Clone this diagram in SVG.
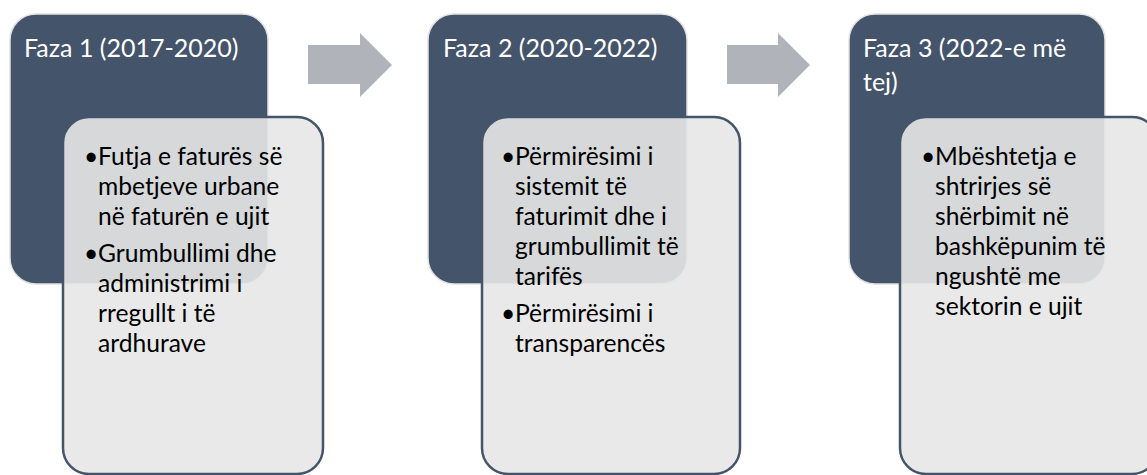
<svg xmlns="http://www.w3.org/2000/svg" width="1147" height="475" viewBox="0 0 1147 475">
<style>
.dark{fill:#44546a;stroke:#e2e2e2;stroke-width:1.5}
.light{fill:#e7e7e7;fill-opacity:0.9;stroke:#44546a;stroke-width:2.5}
.arrow{fill:#b0b3b9}
.hdr{font-family:Lato,"Liberation Sans",sans-serif;font-size:25px;fill:#ffffff}
.body{font-family:Lato,"Liberation Sans",sans-serif;font-size:24.6px;fill:#000000}
</style>
<rect width="1147" height="475" fill="#ffffff"/>
<g id="connectors">
<polygon class="arrow" points="308,45 360,45 360,33 392,65 360,97 360,84 308,84"/>
<polygon class="arrow" points="727,45 778,45 778,33 810,65 778,97 778,84 727,84"/>
</g>
<g id="phase1">
<rect class="dark" x="10" y="14" width="258" height="270" rx="26"/>
<text class="hdr" x="24" y="57">Faza 1 (2017-2020)</text>
<rect class="light" x="63" y="117" width="260" height="357" rx="26"/>
<text class="body" x="84" y="165">•</text>
<text class="body" x="98" y="165">Futja e faturës së</text>
<text class="body" x="98" y="195">mbetjeve urbane</text>
<text class="body" x="98" y="225">në faturën e ujit</text>
<text class="body" x="84" y="262">•</text>
<text class="body" x="98" y="262">Grumbullimi dhe</text>
<text class="body" x="98" y="292">administrimi i</text>
<text class="body" x="98" y="322">rregullt i të</text>
<text class="body" x="98" y="352">ardhurave</text>
</g>
<g id="phase2">
<rect class="dark" x="428" y="14" width="259" height="270" rx="26"/>
<text class="hdr" x="443" y="57">Faza 2 (2020-2022)</text>
<rect class="light" x="482" y="117" width="258" height="357" rx="26"/>
<text class="body" x="501" y="165">•</text>
<text class="body" x="515" y="165">Përmirësimi i</text>
<text class="body" x="515" y="195">sistemit të</text>
<text class="body" x="515" y="225">faturimit dhe i</text>
<text class="body" x="515" y="255">grumbullimit të</text>
<text class="body" x="515" y="285">tarifës</text>
<text class="body" x="501" y="322">•</text>
<text class="body" x="515" y="322">Përmirësimi i</text>
<text class="body" x="515" y="352">transparencës</text>
</g>
<g id="phase3">
<rect class="dark" x="849" y="14" width="256" height="270" rx="26"/>
<text class="hdr" x="863" y="57">Faza 3 (2022-e më</text>
<text class="hdr" x="863" y="91">tej)</text>
<rect class="light" x="900" y="117" width="258" height="357" rx="26"/>
<text class="body" x="921" y="165">•</text>
<text class="body" x="935" y="165">Mbështetja e</text>
<text class="body" x="935" y="195">shtrirjes së</text>
<text class="body" x="935" y="225">shërbimit në</text>
<text class="body" x="935" y="255">bashkëpunim të</text>
<text class="body" x="935" y="285">ngushtë me</text>
<text class="body" x="935" y="315">sektorin e ujit</text>
</g>
</svg>
